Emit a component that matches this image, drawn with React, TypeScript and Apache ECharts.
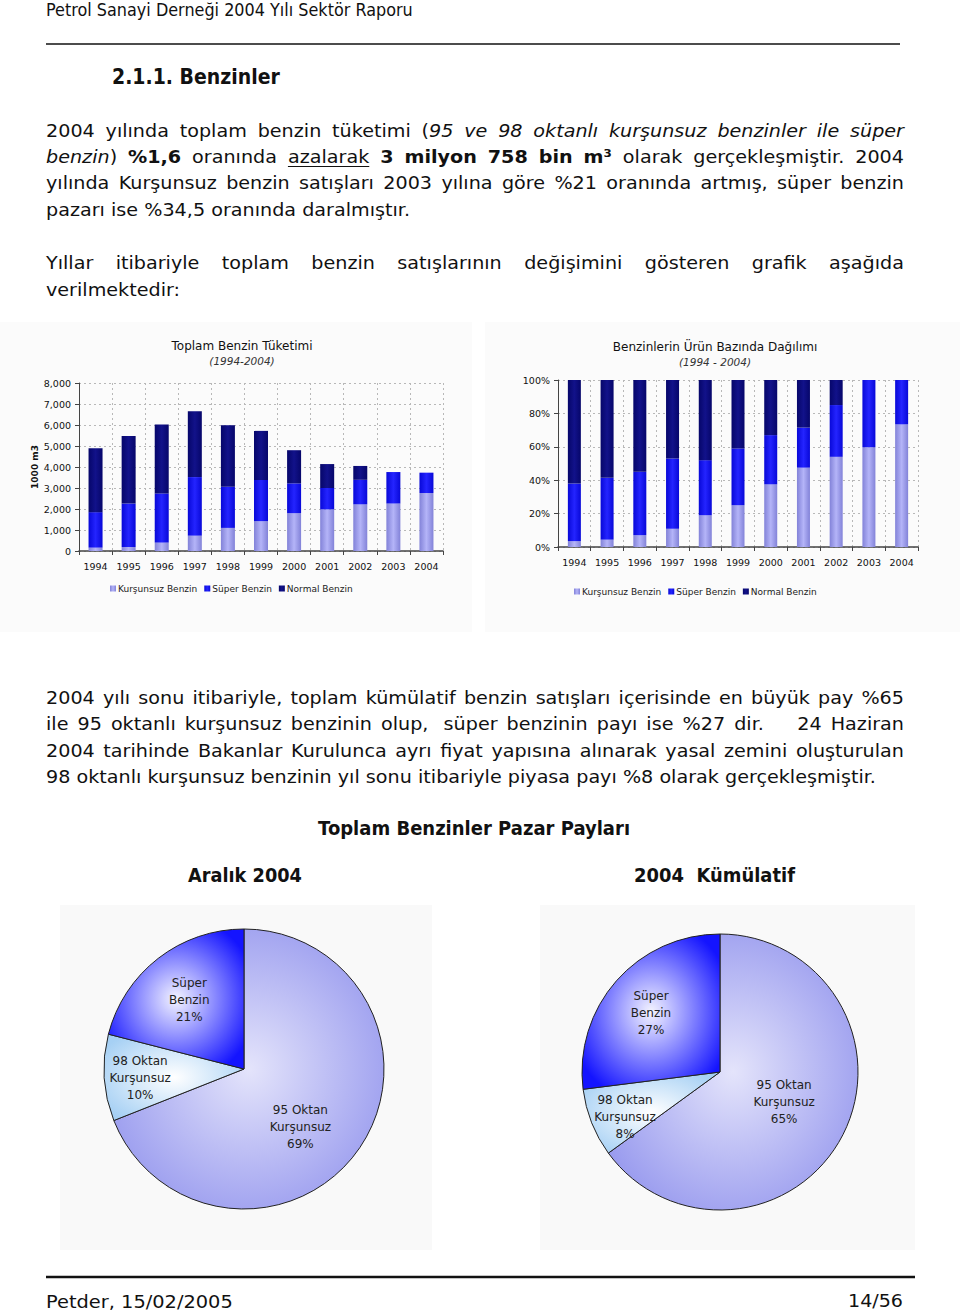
import React, { useEffect, useRef } from 'react';
import * as echarts from 'echarts';

// ---------- DATA ----------
const years = ['1994', '1995', '1996', '1997', '1998', '1999', '2000', '2001', '2002', '2003', '2004'];
const seriesNames = ['Kurşunsuz Benzin', 'Süper Benzin', 'Normal Benzin'];
// Toplam Benzin Tüketimi (1000 m3)
const kursunsuz = [160, 190, 400, 730, 1100, 1420, 1800, 1980, 2220, 2260, 2760];
const superBenzin = [1690, 2070, 2340, 2790, 1960, 1960, 1420, 1020, 1170, 1500, 970];
const normalBenzin = [3040, 3220, 3280, 3130, 2930, 2340, 1580, 1140, 660, 0, 0];
// Benzinlerin Ürün Bazında Dağılımı (%)
const kursunsuzPct = [3.5, 4.4, 7, 11, 19, 25, 37.5, 47.5, 54, 59.8, 73.4];
const superPct = [34.5, 37, 38, 42, 33, 34, 29.5, 24, 31, 40.2, 26.6];
const normalPct = [62, 58.6, 55, 47, 48, 41, 33, 28.5, 15, 0, 0];
// Pie charts
const pieNames = ['95 Oktan\nKurşunsuz', '98 Oktan\nKurşunsuz', 'Süper\nBenzin'];
const aralik2004 = [69, 10, 21];
const kumulatif2004 = [65, 8, 27];

const FAMILY = 'DejaVu Sans';

type Run = { t: string; b?: boolean; i?: boolean; u?: boolean };
type Word = Run[];
const plain = (s: string): Word[] => s.split(' ').map((t) => [{ t }]);
const ital = (s: string): Word[] => s.split(' ').map((t) => [{ t, i: true }]);
const bold = (s: string): Word[] => s.split(' ').map((t) => [{ t, b: true }]);

const para1: Word[][] = [
  [...plain('2004 yılında toplam benzin tüketimi'), [{ t: '(' }, { t: '95', i: true }], ...ital('ve 98 oktanlı kurşunsuz benzinler ile süper')],
  [[{ t: 'benzin', i: true }, { t: ')' }], ...bold('%1,6'), ...plain('oranında'), [{ t: 'azalarak', u: true }], ...bold('3 milyon 758 bin m³'), ...plain('olarak gerçekleşmiştir. 2004')],
  plain('yılında Kurşunsuz benzin satışları 2003 yılına göre %21 oranında artmış, süper benzin'),
  plain('pazarı ise %34,5 oranında daralmıştır.'),
];
const para2: Word[][] = [
  plain('Yıllar itibariyle toplam benzin satışlarının değişimini gösteren grafik aşağıda'),
  plain('verilmektedir:'),
];
const para3: Word[][] = [
  plain('2004 yılı sonu itibariyle, toplam kümülatif benzin satışları içerisinde en büyük pay %65'),
  [...plain('ile 95 oktanlı kurşunsuz benzinin'), [{ t: 'olup, ' }], ...plain('süper benzinin payı ise %27'), [{ t: 'dir.    ' }], ...plain('24 Haziran')],
  plain('2004 tarihinde Bakanlar Kurulunca ayrı fiyat yapısına alınarak yasal zemini oluşturulan'),
  plain('98 oktanlı kurşunsuz benzinin yıl sonu itibariyle piyasa payı %8 olarak gerçekleşmiştir.'),
];

export default function App() {
  const ref = useRef<HTMLDivElement>(null);

  useEffect(() => {
    const el = ref.current as HTMLDivElement;
    const chart = echarts.init(el, undefined, { renderer: 'svg', width: 960, height: 1314 });

    const canvas = document.createElement('canvas');
    const ctx = canvas.getContext('2d') as CanvasRenderingContext2D;
    const meas = (t: string, size: number, b?: boolean, i?: boolean) => {
      ctx.font = `${i ? 'italic ' : ''}${b ? 'bold ' : ''}${size}px "${FAMILY}"`;
      return ctx.measureText(t).width;
    };

    const BODY = 18.5;
    const refLine = '98 oktanlı kurşunsuz benzinin yıl sonu itibariyle piyasa payı %8 olarak gerçekleşmiştir.';
    const s = 830 / meas(refLine, BODY);

    const els: any[] = [];
    const textEl = (text: string, x: number, y: number, size: number, sx: number, b?: boolean, i?: boolean) => ({
      type: 'text',
      x,
      y,
      scaleX: sx,
      z: 10,
      style: {
        text,
        fontFamily: FAMILY,
        fontSize: size,
        fontWeight: b ? 'bold' : 'normal',
        fontStyle: i ? 'italic' : 'normal',
        fill: '#111',
        align: 'left',
        verticalAlign: 'middle',
      },
    });
    const fit = (text: string, x: number, y: number, w: number, size: number, b?: boolean) => {
      els.push(textEl(text, x, y, size, w / meas(text, size, b), b));
    };

    const layoutLine = (words: Word[], x0: number, x1: number, y: number, justify: boolean) => {
      const widths = words.map((wd) => wd.reduce((a, r) => a + meas(r.t, BODY, r.b, r.i) * s, 0));
      const total = widths.reduce((a, b) => a + b, 0);
      const gap = justify && words.length > 1 ? (x1 - x0 - total) / (words.length - 1) : meas(' ', BODY) * s;
      let x = x0;
      words.forEach((wd, k) => {
        let rx = x;
        wd.forEach((r) => {
          const rw = meas(r.t, BODY, r.b, r.i) * s;
          els.push(textEl(r.t, rx, y, BODY, s, r.b, r.i));
          if (r.u) {
            els.push({ type: 'line', z: 10, shape: { x1: rx, y1: y + 10, x2: rx + rw, y2: y + 10 }, style: { stroke: '#111', lineWidth: 1 } });
          }
          rx += rw;
        });
        x += widths[k] + gap;
      });
    };
    const layoutPara = (lines: Word[][], ys: number[]) => {
      lines.forEach((ln, k) => layoutLine(ln, 46, 904, ys[k], k < lines.length - 1));
    };

    // Header
    fit('Petrol Sanayi Derneği 2004 Yılı Sektör Raporu', 46, 10, 367, 17);
    els.push({ type: 'line', z: 10, shape: { x1: 46, y1: 44, x2: 900, y2: 44 }, style: { stroke: '#111', lineWidth: 1.5 } });
    fit('2.1.1. Benzinler', 112, 77, 168, 21, true);

    layoutPara(para1, [130.5, 156.5, 183, 209.5]);
    layoutPara(para2, [263, 289.5]);
    layoutPara(para3, [698, 724, 750.5, 777]);

    fit('Toplam Benzinler Pazar Payları', 318, 828, 312, 19, true);
    fit('Aralık 2004', 188, 875, 114, 19, true);
    fit('2004  Kümülatif', 634, 875, 161, 19, true);

    // Footer
    els.push({ type: 'line', z: 10, shape: { x1: 46, y1: 1277, x2: 915, y2: 1277 }, style: { stroke: '#111', lineWidth: 2.5 } });
    fit('Petder, 15/02/2005', 46, 1301, 187, 18.5);
    fit('14/56', 848, 1301, 55, 18.5);

    // chart image backgrounds
    els.push({ type: 'rect', z: -5, shape: { x: 0, y: 322, width: 472, height: 310 }, style: { fill: '#fbfbfb' } });
    els.push({ type: 'rect', z: -5, shape: { x: 485, y: 322, width: 475, height: 310 }, style: { fill: '#fbfbfb' } });
    els.push({ type: 'rect', z: -5, shape: { x: 60, y: 905, width: 372, height: 345 }, style: { fill: '#f9f9f9' } });
    els.push({ type: 'rect', z: -5, shape: { x: 540, y: 905, width: 375, height: 345 }, style: { fill: '#f9f9f9' } });

    const lg = (a: string, b: string) =>
      new echarts.graphic.LinearGradient(0, 0, 1, 0, [
        { offset: 0, color: a },
        { offset: 0.5, color: b },
        { offset: 1, color: a },
      ]);
    const barColors = [lg('#8282d8', '#b4b4f8'), lg('#0808d8', '#2424ff'), lg('#06066a', '#12128a')];

    const rg = (c: string, e: string) =>
      new echarts.graphic.RadialGradient(0.5, 0.5, 0.6, [
        { offset: 0, color: c },
        { offset: 1, color: e },
      ]);
    const pieColors = [rg('#e4e4fb', '#9698ee'), rg('#ffffff', '#a6d0f4'), rg('#f4f4ff', '#1414ff')];

    const labelTxt = { fontFamily: FAMILY, fontSize: 9.5, color: '#111' };
    const dashed = { show: true, lineStyle: { type: [2, 3] as any, color: '#b8b8b8', width: 1 } };

    const xAx = (gi: number) => ({
      type: 'category',
      gridIndex: gi,
      data: years,
      axisLine: { lineStyle: { color: '#444', width: 1.5 } },
      axisTick: { show: true, length: 4, lineStyle: { color: '#444' } },
      axisLabel: { ...labelTxt, margin: 10 },
      splitLine: dashed,
    });

    const barSeries = (gi: number, data: number[][], stack: string, bw: number) =>
      data.map((d, k) => ({
        name: seriesNames[k],
        type: 'bar',
        stack,
        xAxisIndex: gi,
        yAxisIndex: gi,
        data: d,
        barWidth: bw,
        itemStyle: { color: barColors[k] },
        silent: true,
      }));

    const pieLabelOffsets = [
      [
        { dx: -4, dy: 17 },
        { dx: -31, dy: 4 },
        { dx: -10, dy: -11 },
      ],
      [
        { dx: 0, dy: -3 },
        { dx: -28, dy: 18 },
        { dx: -15, dy: -11 },
      ],
    ];
    const pieSeries = (pi: number, center: number[], r: number, vals: number[]) => ({
      type: 'pie',
      center,
      radius: r,
      startAngle: 90,
      clockwise: true,
      avoidLabelOverlap: false,
      silent: true,
      data: pieNames.map((n, k) => ({ name: n, value: vals[k], itemStyle: { color: pieColors[k] } })),
      itemStyle: { borderColor: '#222', borderWidth: 1 },
      label: {
        show: true,
        position: 'inside',
        formatter: '{b}\n{c}%',
        fontFamily: FAMILY,
        fontSize: 12,
        lineHeight: 17,
        color: '#222',
      },
      labelLine: { show: false },
      labelLayout: (p: any) => pieLabelOffsets[pi][p.dataIndex],
    });

    const legendBase = {
      data: seriesNames,
      icon: 'rect',
      itemWidth: 6,
      itemHeight: 6,
      itemGap: 7,
      selectedMode: false,
      padding: 0,
      textStyle: { fontFamily: FAMILY, fontSize: 9, color: '#222', padding: [0, 0, 0, -3] },
    };

    const titleBase = {
      textAlign: 'center',
      padding: 0,
      itemGap: 3,
      textStyle: { fontFamily: FAMILY, fontSize: 12, fontWeight: 'normal', color: '#111' },
      subtextStyle: { fontFamily: FAMILY, fontSize: 10.5, fontStyle: 'italic', color: '#333' },
    };

    const option: any = {
      animation: false,
      backgroundColor: '#ffffff',
      title: [
        { ...titleBase, text: 'Toplam Benzin Tüketimi', subtext: '(1994-2004)', left: 242, top: 340 },
        { ...titleBase, text: 'Benzinlerin Ürün Bazında Dağılımı', subtext: '(1994 - 2004)', left: 715, top: 341 },
      ],
      legend: [
        { ...legendBase, left: 110, top: 584 },
        { ...legendBase, left: 574, top: 587 },
      ],
      grid: [
        { left: 79, top: 383, width: 364, height: 168 },
        { left: 558, top: 380, width: 360, height: 167 },
      ],
      xAxis: [xAx(0), xAx(1)],
      yAxis: [
        {
          type: 'value',
          gridIndex: 0,
          min: 0,
          max: 8000,
          interval: 1000,
          axisLine: { show: true, lineStyle: { color: '#444' } },
          axisTick: { show: true, length: 4, lineStyle: { color: '#444' } },
          axisLabel: { ...labelTxt, margin: 8, formatter: (v: number) => v.toLocaleString('en-US') },
          splitLine: dashed,
          name: '1000 m3',
          nameLocation: 'middle',
          nameRotate: 90,
          nameGap: 39,
          nameTextStyle: { fontFamily: FAMILY, fontSize: 9, fontWeight: 'bold', color: '#111' },
        },
        {
          type: 'value',
          gridIndex: 1,
          min: 0,
          max: 100,
          interval: 20,
          axisLine: { show: true, lineStyle: { color: '#444' } },
          axisTick: { show: true, length: 4, lineStyle: { color: '#444' } },
          axisLabel: { ...labelTxt, margin: 8, formatter: '{value}%' },
          splitLine: dashed,
        },
      ],
      series: [
        ...barSeries(0, [kursunsuz, superBenzin, normalBenzin], 'abs', 14),
        ...barSeries(1, [kursunsuzPct, superPct, normalPct], 'pct', 13),
        pieSeries(0, [244, 1069], 140, aralik2004),
        pieSeries(1, [720, 1072], 138, kumulatif2004),
      ],
      graphic: { elements: els },
    };

    chart.setOption(option);
    return () => chart.dispose();
  }, []);

  return <div ref={ref} style={{ position: 'absolute', left: 0, top: 0, width: 960, height: 1314 }} />;
}
